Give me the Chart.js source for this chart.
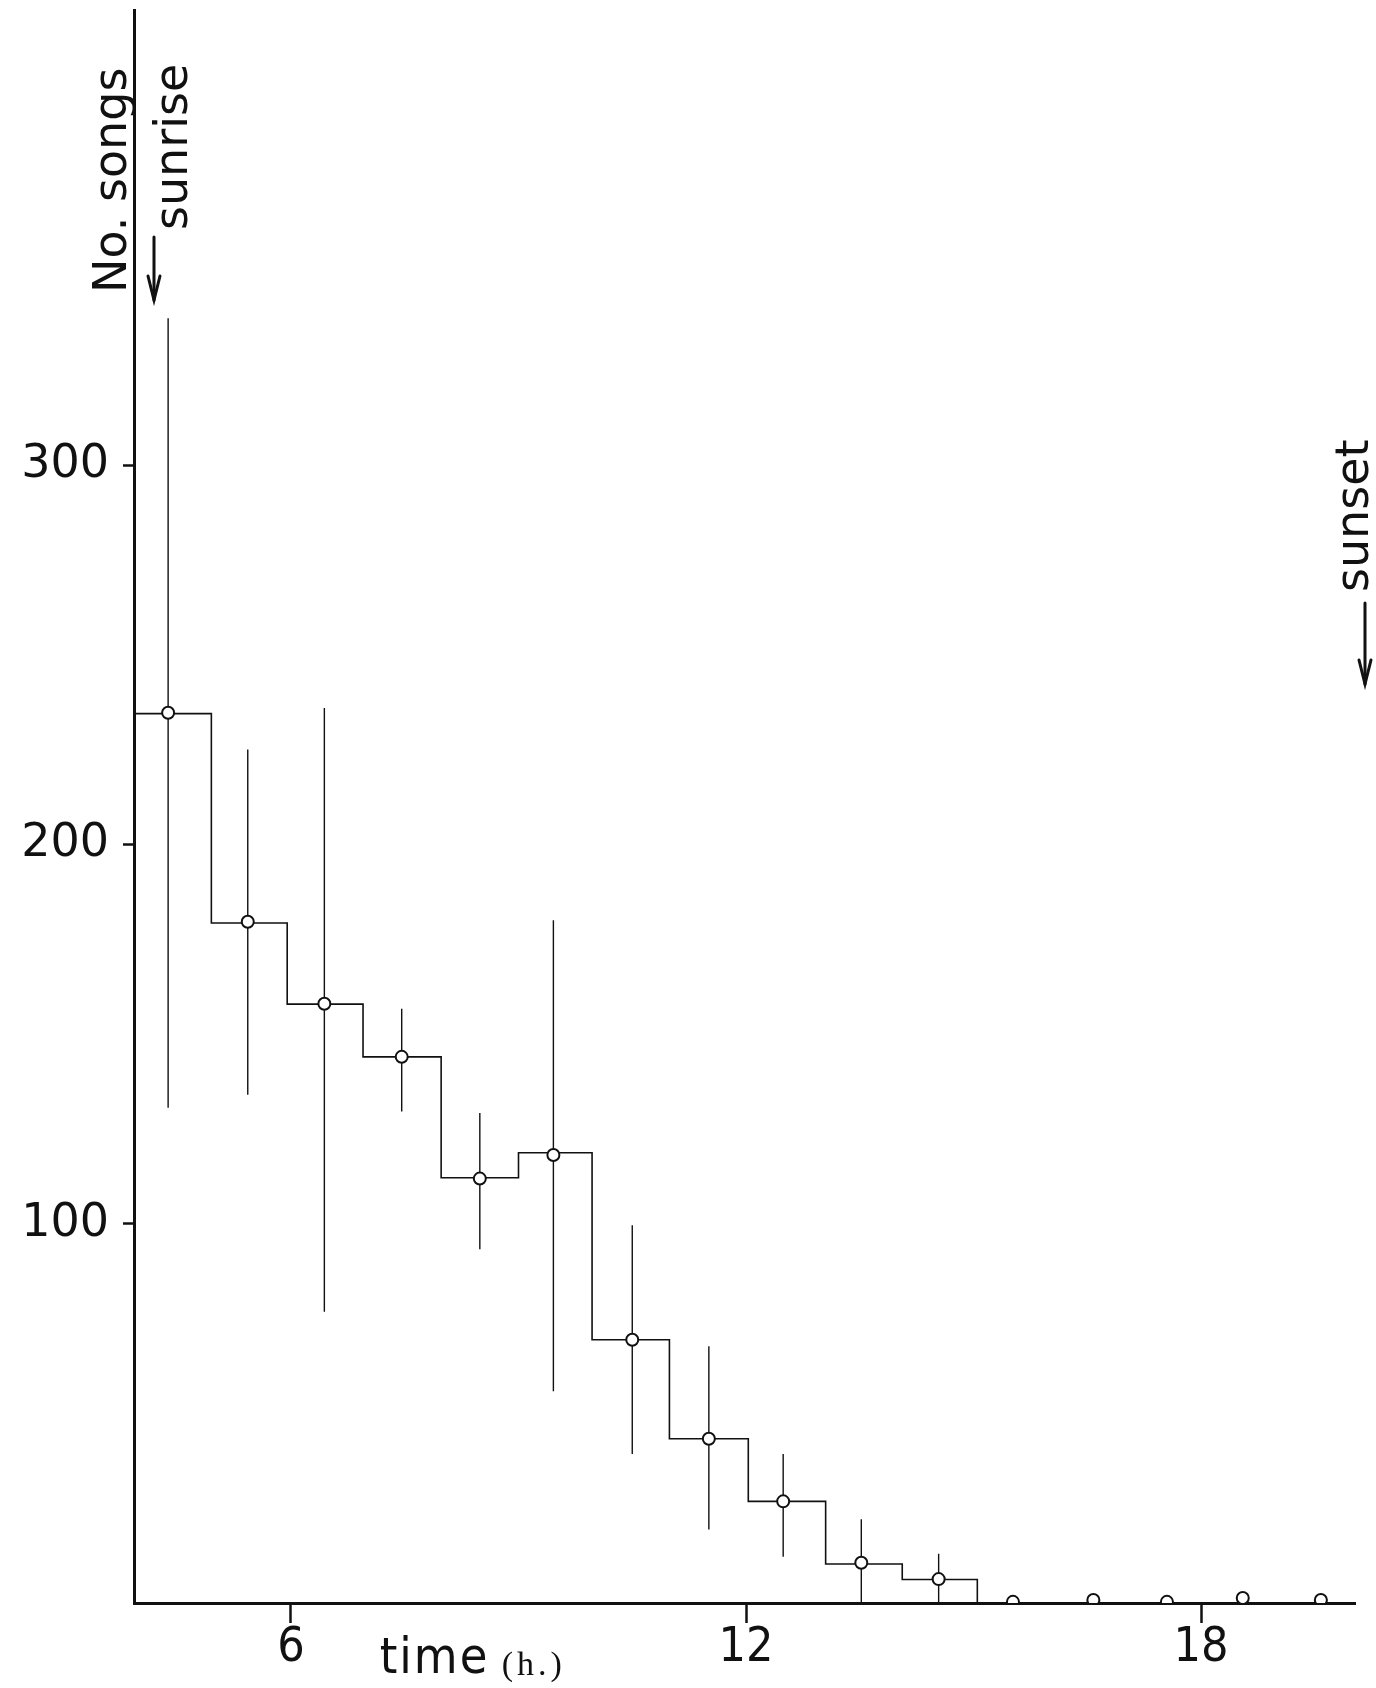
<!DOCTYPE html>
<html>
<head>
<meta charset="utf-8">
<script src="https://cdn.jsdelivr.net/npm/chart.js@4.4.1/dist/chart.umd.min.js"></script>
<style>
  html, body { margin: 0; padding: 0; background: #fff; }
  #wrap { width: 1376px; height: 1688px; }
</style>
</head>
<body>
<div id="wrap"><canvas id="songChart" width="1376" height="1688"></canvas></div>
<script>
// ============================================================
// Song counts through the day — hourly steps, means, ranges
// ============================================================

// hourly bins (edges in hours) and their step level
const binEdges = [3.93, 4.95, 5.95, 6.95, 7.98, 9.0, 9.97, 10.99, 12.03, 13.05, 14.06, 15.05, 20.03];
const binLevels = [234.5, 179.3, 157.9, 144.0, 112.1, 118.7, 69.4, 43.3, 26.8, 10.3, 6.2, 0];

// mean per hour (circles)
const hourMids = [4.38, 5.43, 6.44, 7.46, 8.49, 9.46, 10.50, 11.51, 12.49, 13.52, 14.54, 15.52, 16.58, 17.55, 18.55, 19.58];
const meanSongs = [234.7, 179.6, 158.0, 144.0, 111.9, 118.1, 69.4, 43.3, 26.8, 10.6, 6.3, 0.3, 0.8, 0.3, 1.3, 0.8];

// range of counts (vertical lines), first 11 hours only
const rangeHigh = [338.7, 225.0, 236.0, 156.7, 129.2, 180.0, 99.6, 67.7, 39.3, 22.1, 13.0];
const rangeLow = [130.6, 134.0, 76.8, 129.6, 93.3, 55.8, 39.3, 19.4, 12.2, 0, 0];

const xTicks = [6, 12, 18];
const yTicks = [100, 200, 300];

const ink = '#111';
const narrow = '"DejaVu Sans Condensed", "Liberation Sans Narrow", Roboto, sans-serif';

// build the line data from the arrays
let stepData = binLevels.map((lv, i) => ({ x: binEdges[i], y: lv }));
stepData.push({ x: binEdges[binEdges.length - 1], y: binLevels[binLevels.length - 1] });

let meanData = hourMids.map((h, i) => ({ x: h, y: meanSongs[i] }));

let rangeData = [];
rangeHigh.forEach((hi, i) => {
    rangeData.push({ x: hourMids[i], y: hi });
    rangeData.push({ x: hourMids[i], y: rangeLow[i] });
    rangeData.push({ x: hourMids[i], y: null });
});

function arrowDown(ctx, x, y1, y2) {
    ctx.beginPath();
    ctx.moveTo(x, y1);
    ctx.lineTo(x, y2);
    ctx.stroke();
    ctx.beginPath();
    ctx.moveTo(x - 6, y2 - 24);
    ctx.lineTo(x, y2);
    ctx.lineTo(x + 6, y2 - 24);
    ctx.stroke();
}

function vText(ctx, txt, x, y, font) {
    ctx.save();
    ctx.translate(x, y);
    ctx.rotate(-Math.PI / 2);
    ctx.font = font;
    ctx.textAlign = 'left';
    ctx.textBaseline = 'alphabetic';
    ctx.fillText(txt, 0, 0);
    ctx.restore();
}

const labelsPlugin = {
    id: 'labels',
    afterDraw(chart) {
        const ctx = chart.ctx;
        const xs = chart.scales.x;
        ctx.save();
        ctx.fillStyle = ink;
        ctx.strokeStyle = ink;
        ctx.lineWidth = 3;
        ctx.lineCap = 'round';

        vText(ctx, 'No. songs', 126, 293, '46px "DejaVu Sans"');
        vText(ctx, 'sunrise', 187, 230, '46px "DejaVu Sans"');
        arrowDown(ctx, 154, 237, 300);

        vText(ctx, 'sunset', 1368, 592, '46px "DejaVu Sans"');
        arrowDown(ctx, 1365, 603, 684);

        // axis title sits between 6 and 12
        const tx = xs.getPixelForValue(7.17);
        ctx.textBaseline = 'alphabetic';
        ctx.textAlign = 'left';
        ctx.font = '50px ' + narrow;
        ctx.letterSpacing = '2px';
        ctx.fillText('time', tx, 1673);
        ctx.font = '34px "Liberation Serif"';
        ctx.letterSpacing = '4px';
        ctx.fillText('(h.)', tx + 122, 1675);
        ctx.restore();
    }
};

new Chart(document.getElementById('songChart'), {
    type: 'line',
    data: {
        datasets: [
            {
                data: meanData, order: 0, showLine: false,
                pointStyle: 'circle', pointRadius: 6, pointBorderWidth: 2,
                pointBackgroundColor: '#fff', pointBorderColor: ink
            },
            {
                data: stepData, order: 1, stepped: 'before',
                borderColor: ink, borderWidth: 1.6, pointRadius: 0, fill: false
            },
            {
                data: rangeData, order: 2, spanGaps: false,
                borderColor: ink, borderWidth: 1.4, pointRadius: 0, fill: false
            }
        ]
    },
    options: {
        responsive: false,
        animation: false,
        events: [],
        layout: { padding: { top: 10, right: 21, left: 0, bottom: 0 } },
        plugins: { legend: { display: false }, tooltip: { enabled: false } },
        scales: {
            x: {
                type: 'linear', min: 3.93, max: 20.03,
                afterBuildTicks: s => { s.ticks = xTicks.map(v => ({ value: v })); },
                afterFit: s => { s.height = 85; s.paddingLeft = 0; s.paddingRight = 0; },
                border: { display: true, color: ink, width: 3 },
                grid: { drawOnChartArea: false, drawTicks: true, tickLength: 20, tickWidth: 2.5, tickColor: ink },
                ticks: { color: ink, padding: -3, maxRotation: 0, font: { family: narrow, size: 48 } }
            },
            y: {
                type: 'linear', min: 0, max: 420,
                afterBuildTicks: s => { s.ticks = yTicks.map(v => ({ value: v })); },
                afterFit: s => { s.width = 134; s.paddingTop = 0; s.paddingBottom = 0; },
                border: { display: true, color: ink, width: 3 },
                grid: { drawOnChartArea: false, drawTicks: true, tickLength: 11, tickWidth: 2.5, tickColor: ink },
                ticks: { color: ink, padding: 14, font: { family: 'DejaVu Sans', size: 46 } }
            }
        }
    },
    plugins: [labelsPlugin]
});
</script>
</body>
</html>
